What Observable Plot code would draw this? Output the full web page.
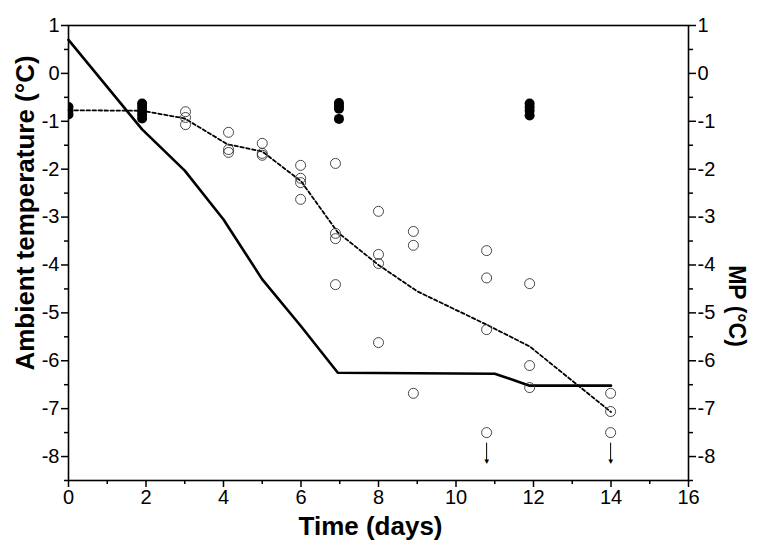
<!DOCTYPE html>
<html>
<head>
<meta charset="utf-8">
<script src="https://cdn.jsdelivr.net/npm/d3@7"></script>
<script src="https://cdn.jsdelivr.net/npm/@observablehq/plot@0.6"></script>
<style>
  html, body { margin: 0; padding: 0; background: #fff; }
  #chart svg { font-family: "Liberation Sans", Arial, sans-serif; }
</style>
</head>
<body>
<div id="chart"></div>
<script>
// Ambient temperature (solid line)
const ambientDays = [0, 1.9, 3, 4, 5, 6, 6.95, 11, 11.9, 14];
const ambientTemp = [0.7, -1.17, -2.03, -3.05, -4.3, -5.28, -6.25, -6.27, -6.52, -6.52];

// Mean MP (dashed line)
const meanDays = [0, 1.9, 3, 4.1, 5, 6, 6.95, 8, 9, 10.8, 11.9, 14];
const meanMP = [-0.77, -0.78, -0.94, -1.48, -1.63, -2.25, -3.32, -4.0, -4.55, -5.25, -5.7, -7.07];

// Filled dots
const filledDays = [0, 0, 0, 1.9, 1.9, 1.9, 1.9, 1.9, 6.98, 6.98, 6.98, 6.98, 11.9, 11.9, 11.9, 11.9];
const filledMP = [-0.7, -0.78, -0.86, -0.63, -0.7, -0.78, -0.86, -0.94, -0.62, -0.68, -0.74, -0.95, -0.63, -0.7, -0.78, -0.88];

// Open circles
const openDays = [3.02, 3.02, 3.02, 4.13, 4.13, 4.13, 5.0, 5.0, 5.0, 5.99, 5.99, 5.99, 5.99,
  6.89, 6.89, 6.89, 6.89, 8.0, 8.0, 8.0, 8.0, 8.9, 8.9, 8.9, 10.79, 10.79, 10.79, 10.79,
  11.9, 11.9, 11.9, 13.99, 13.99, 13.99];
const openMP = [-0.8, -0.92, -1.07, -1.23, -1.59, -1.65, -1.46, -1.67, -1.71, -1.92, -2.19, -2.28, -2.63,
  -1.88, -3.34, -3.45, -4.41, -2.88, -3.78, -3.97, -5.62, -3.3, -3.59, -6.68, -3.7, -4.27, -5.35, -7.5,
  -4.39, -6.1, -6.56, -6.68, -7.06, -7.5];

// Arrows (below detection)
const arrowDays = [10.79, 13.99];
const arrowTop = [-7.72, -7.72];
const arrowBottom = [-8.12, -8.12];

// Ticks
const xLabelTicks = [0, 2, 4, 6, 8, 10, 12, 14, 16];
const xMinorTicks = [1, 3, 5, 7, 9, 11, 13, 15];
const yLabelTicks = [1, 0, -1, -2, -3, -4, -5, -6, -7, -8];
const yMinorTicks = [0.5, -0.5, -1.5, -2.5, -3.5, -4.5, -5.5, -6.5, -7.5, -8.5];

const xTitle = "Time (days)";
const yTitleLeft = "Ambient temperature (°C)";
const yTitleRight = "MP (°C)";

const ambient = ambientDays.map((d, i) => ({day: d, t: ambientTemp[i]}));
const mean = meanDays.map((d, i) => ({day: d, t: meanMP[i]}));
const filled = filledDays.map((d, i) => ({day: d, t: filledMP[i]}));
const open = openDays.map((d, i) => ({day: d, t: openMP[i]}));
const arrows = arrowDays.map((d, i) => ({day: d, y1: arrowTop[i], y2: arrowBottom[i]}));

const fmt = d => String(d);
const ink = "#000";
const W = 763, H = 551, ML = 68, MR = 75, MT = 25, MB = 71;

const chart = Plot.plot({
  width: W,
  height: H,
  marginLeft: ML,
  marginRight: MR,
  marginTop: MT,
  marginBottom: MB,
  x: {domain: [0, 16]},
  y: {domain: [-8.5, 1]},
  marks: [
    Plot.line(ambient, {x: "day", y: "t", stroke: ink, strokeWidth: 2.6}),
    Plot.line(mean, {x: "day", y: "t", stroke: ink, strokeWidth: 1.8, strokeDasharray: "3.5,2.5"}),
    Plot.dot(open, {x: "day", y: "t", r: 5, stroke: "#333", strokeWidth: 0.9, fill: "none"}),
    Plot.dot(filled, {x: "day", y: "t", r: 5, fill: ink, stroke: "none", clip: true}),
    Plot.ruleX(arrows, {x: "day", y1: "y1", y2: "y2", stroke: ink, strokeWidth: 1}),
    Plot.text(arrows, {x: "day", y: "y2", text: () => "▼", fontSize: 8, fill: ink, dy: -1}),
    Plot.frame({stroke: ink, strokeWidth: 1.6}),
    Plot.axisY({ticks: yLabelTicks, anchor: "left", tickSize: 7, tickPadding: 2, fontSize: 20, tickFormat: fmt, label: null, strokeWidth: 1.5}),
    Plot.axisY({ticks: yMinorTicks, anchor: "left", tickSize: 4, text: null, label: null, strokeWidth: 1.5}),
    Plot.axisY({ticks: yLabelTicks, anchor: "right", tickSize: 7, tickPadding: 2, fontSize: 20, tickFormat: fmt, label: null, strokeWidth: 1.5}),
    Plot.axisY({ticks: yMinorTicks, anchor: "right", tickSize: 4, text: null, label: null, strokeWidth: 1.5}),
    Plot.axisX({ticks: xLabelTicks, anchor: "bottom", tickSize: 7, tickPadding: 2, fontSize: 20, tickFormat: fmt, label: null, strokeWidth: 1.5}),
    Plot.axisX({ticks: xMinorTicks, anchor: "bottom", tickSize: 4, text: null, label: null, strokeWidth: 1.5}),
    Plot.text([xTitle], {frameAnchor: "bottom", textAnchor: "middle", dy: 54, dx: -8, fontSize: 26, fontWeight: "bold", fill: ink}),
    Plot.text([yTitleLeft], {frameAnchor: "left", textAnchor: "middle", rotate: -90, dx: -43, dy: -40, fontSize: 26, fontWeight: "bold", fill: ink}),
    Plot.text([yTitleRight], {frameAnchor: "right", textAnchor: "middle", rotate: 90, dx: 48, dy: 53, fontSize: 23, fontWeight: "bold", fill: ink})
  ]
});

// Ensure filled dots are clipped to the plotting frame (as in the reference)
const ns = "http://www.w3.org/2000/svg";
const defs = document.createElementNS(ns, "defs");
const cp = document.createElementNS(ns, "clipPath");
cp.setAttribute("id", "frame-clip");
const rect = document.createElementNS(ns, "rect");
rect.setAttribute("x", ML);
rect.setAttribute("y", MT);
rect.setAttribute("width", W - ML - MR);
rect.setAttribute("height", H - MT - MB);
cp.appendChild(rect);
defs.appendChild(cp);
chart.insertBefore(defs, chart.firstChild);
const dotGroups = chart.querySelectorAll('g[aria-label="dot"]');
if (dotGroups.length > 1) dotGroups[1].setAttribute("clip-path", "url(#frame-clip)");

document.getElementById("chart").appendChild(chart);
</script>
</body>
</html>
